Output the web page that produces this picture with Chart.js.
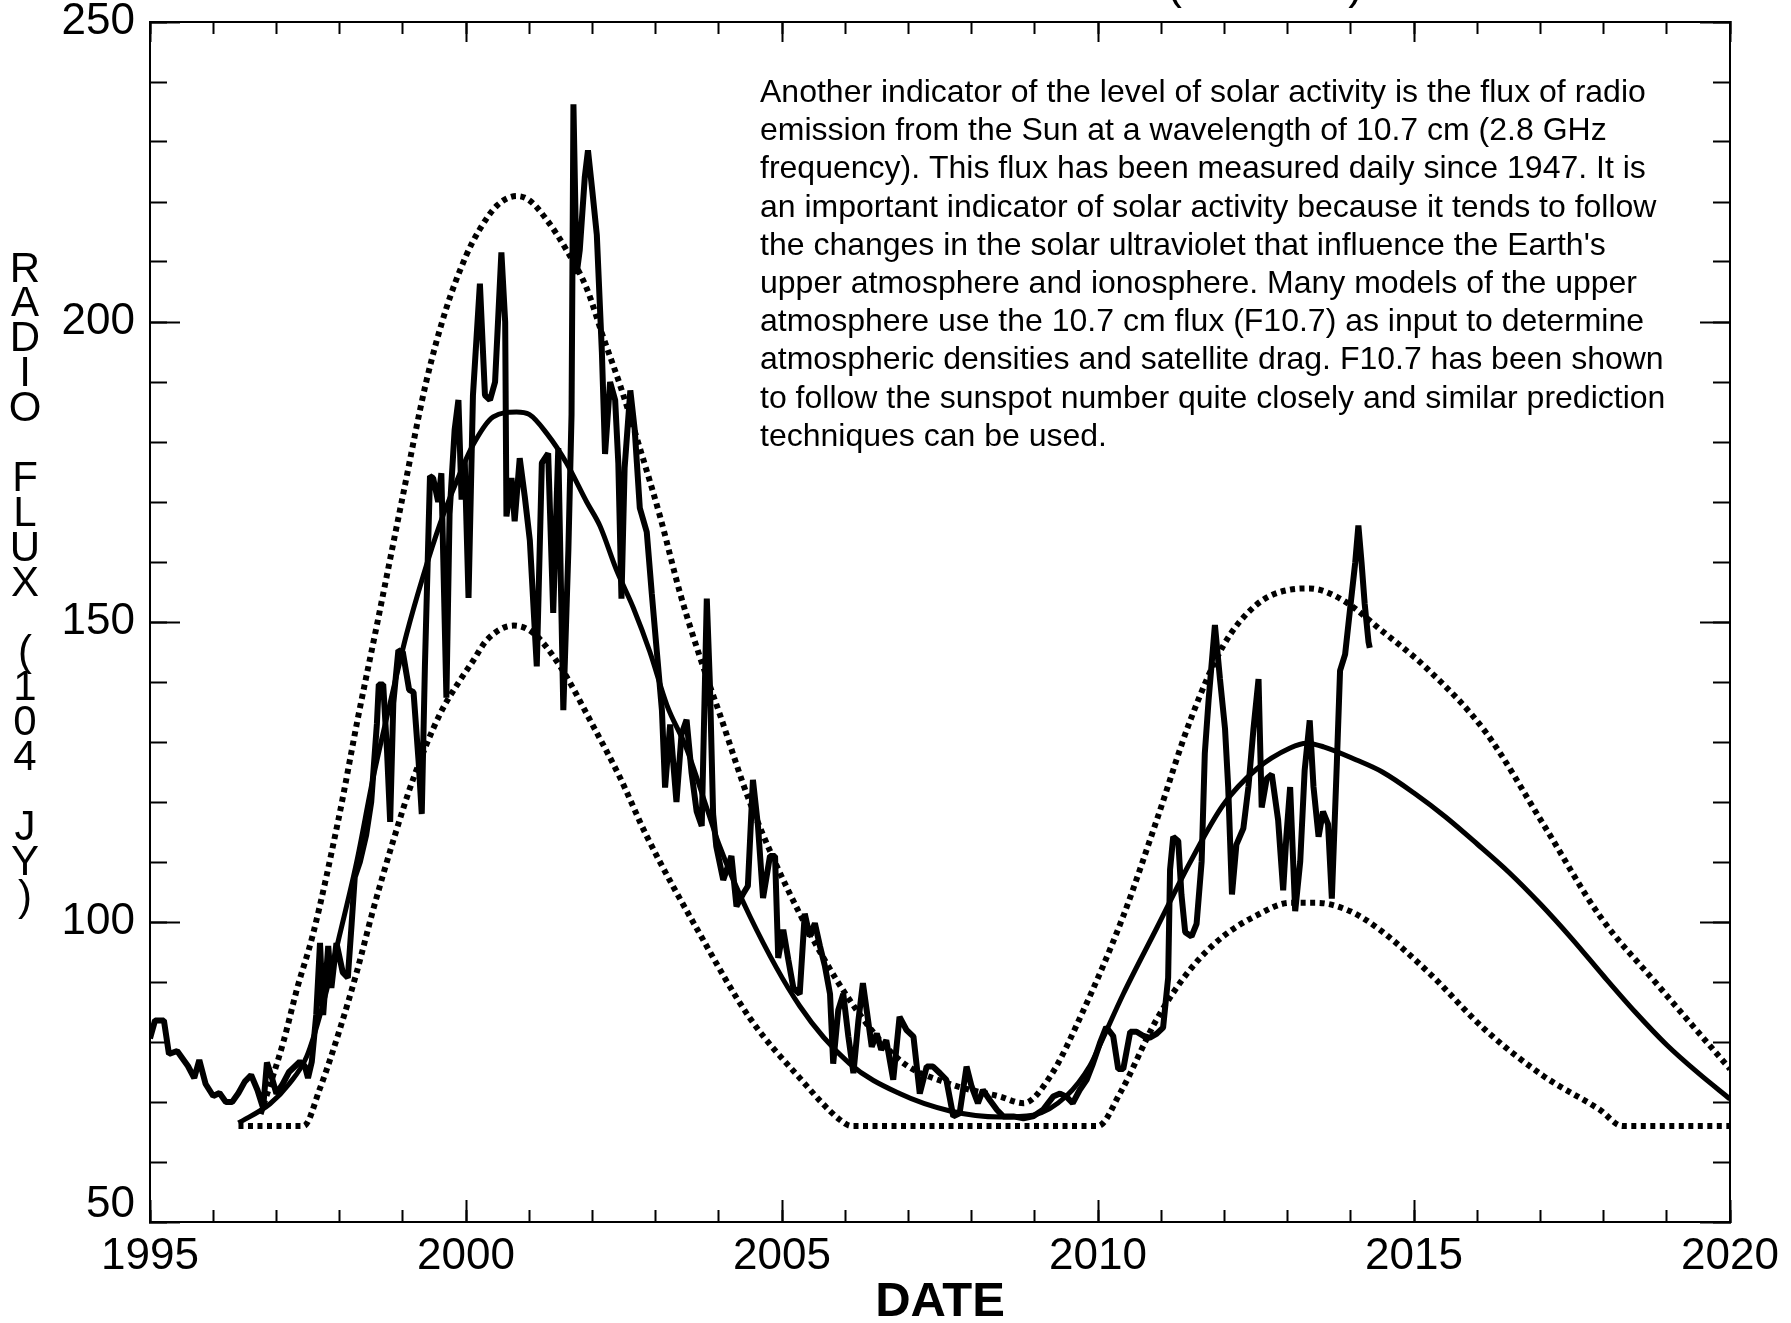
<!DOCTYPE html>
<html>
<head>
<meta charset="utf-8">
<title>Radio flux prediction</title>
<script src="https://cdn.jsdelivr.net/npm/chart.js@4.4.1/dist/chart.umd.min.js"></script>
<style>
  html, body { margin: 0; padding: 0; background: #fff; }
  canvas { display: block; }
</style>
</head>
<body>
<canvas id="fluxChart" width="1791" height="1323" style="width:1791px;height:1323px"></canvas>
<script>
// observed monthly 10.7 cm flux
const obsYear = [
  1995.00, 1995.08, 1995.22, 1995.30, 1995.43, 1995.60, 1995.70, 1995.78, 1995.88, 1996.00,
  1996.10, 1996.20, 1996.30, 1996.40, 1996.50, 1996.60, 1996.70, 1996.79, 1996.85, 1996.93,
  1997.00, 1997.10, 1997.20, 1997.37, 1997.45, 1997.50, 1997.56, 1997.63, 1997.69, 1997.74,
  1997.82, 1997.87, 1997.95, 1998.05, 1998.13, 1998.19, 1998.24, 1998.32, 1998.42, 1998.50,
  1998.59, 1998.62, 1998.69, 1998.75, 1998.80, 1998.85, 1998.93, 1999.00, 1999.10, 1999.17,
  1999.25, 1999.30, 1999.35, 1999.43, 1999.48, 1999.56, 1999.61, 1999.69, 1999.74, 1999.82,
  1999.88, 1999.93, 1999.98, 2000.04, 2000.11, 2000.22, 2000.30, 2000.38, 2000.46, 2000.56,
  2000.62, 2000.64, 2000.72, 2000.77, 2000.85, 2000.93, 2001.01, 2001.12, 2001.20, 2001.30,
  2001.38, 2001.46, 2001.54, 2001.62, 2001.67, 2001.70, 2001.75, 2001.80, 2001.88, 2001.93,
  2002.00, 2002.07, 2002.15, 2002.20, 2002.28, 2002.36, 2002.41, 2002.46, 2002.51, 2002.60,
  2002.67, 2002.75, 2002.86, 2002.94, 2003.02, 2003.10, 2003.15, 2003.23, 2003.33, 2003.41,
  2003.49, 2003.57, 2003.65, 2003.73, 2003.81, 2003.86, 2003.91, 2003.96, 2004.07, 2004.20,
  2004.28, 2004.39, 2004.46, 2004.54, 2004.62, 2004.70, 2004.81, 2004.89, 2004.94, 2005.02,
  2005.10, 2005.18, 2005.28, 2005.36, 2005.44, 2005.52, 2005.60, 2005.68, 2005.76, 2005.81,
  2005.89, 2005.97, 2006.05, 2006.13, 2006.21, 2006.28, 2006.34, 2006.42, 2006.50, 2006.57,
  2006.65, 2006.76, 2006.86, 2006.97, 2007.08, 2007.18, 2007.29, 2007.39, 2007.50, 2007.60,
  2007.71, 2007.81, 2007.92, 2008.00, 2008.10, 2008.18, 2008.29, 2008.40, 2008.50, 2008.66,
  2008.82, 2008.97, 2009.13, 2009.29, 2009.40, 2009.50, 2009.60, 2009.71, 2009.82, 2009.92,
  2010.03, 2010.13, 2010.24, 2010.32, 2010.40, 2010.51, 2010.61, 2010.72, 2010.82, 2010.93,
  2011.03, 2011.11, 2011.14, 2011.19, 2011.27, 2011.32, 2011.38, 2011.48, 2011.56, 2011.64,
  2011.69, 2011.75, 2011.85, 2011.93, 2012.01, 2012.06, 2012.12, 2012.19, 2012.30, 2012.38,
  2012.46, 2012.54, 2012.59, 2012.67, 2012.75, 2012.85, 2012.93, 2012.98, 2013.04, 2013.12,
  2013.20, 2013.27, 2013.35, 2013.41, 2013.49, 2013.56, 2013.64, 2013.70, 2013.78, 2013.83,
  2013.91, 2013.99, 2014.07, 2014.12, 2014.17, 2014.22, 2014.28, 2014.30
];
const obsFlux = [
  80.6, 83.6, 83.6, 78.0, 78.5, 76.0, 74.0, 77.0, 73.0, 71.0,
  71.5, 70.0, 70.0, 71.5, 73.4, 74.5, 72.0, 69.0, 76.6, 74.0,
  71.4, 73.0, 75.0, 76.7, 76.0, 74.0, 76.7, 84.5, 96.5, 84.5,
  96.0, 89.0, 96.5, 91.6, 90.7, 99.6, 107.5, 110.0, 114.5, 120.0,
  133.0, 139.6, 139.6, 128.6, 116.7, 136.5, 145.3, 145.0, 138.7, 138.3,
  126.8, 118.0, 142.7, 174.3, 174.0, 170.0, 174.8, 137.4, 168.0, 182.0,
  187.0, 170.4, 177.0, 154.0, 187.8, 206.4, 187.8, 187.0, 190.0, 211.6,
  200.0, 167.6, 174.0, 166.8, 177.3, 170.9, 163.6, 142.6, 176.5, 178.1,
  151.5, 179.0, 135.3, 162.0, 184.6, 236.3, 208.0, 212.0, 224.2, 228.6,
  221.7, 214.5, 195.0, 178.0, 190.0, 187.0, 176.5, 153.9, 175.7, 188.6,
  182.0, 169.0, 165.0, 154.7, 145.0, 135.3, 122.4, 132.9, 120.0, 131.3,
  133.7, 124.8, 118.4, 116.0, 153.9, 139.4, 118.0, 112.6, 107.0, 111.0,
  102.6, 104.8, 106.0, 123.7, 116.0, 104.0, 111.0, 111.0, 94.0, 98.7,
  93.7, 89.0, 88.0, 101.4, 97.6, 99.8, 96.0, 92.6, 88.0, 76.4,
  85.3, 88.0, 80.9, 74.8, 83.7, 89.8, 85.3, 79.2, 81.4, 78.7,
  80.3, 73.7, 84.2, 82.0, 80.9, 71.4, 75.9, 75.9, 74.8, 73.7,
  67.6, 68.1, 75.9, 72.6, 69.8, 72.0, 70.3, 68.7, 67.6, 67.6,
  67.3, 67.6, 68.7, 70.9, 71.4, 70.9, 69.8, 72.0, 73.7, 76.4,
  79.8, 82.5, 81.0, 75.5, 75.5, 81.7, 81.7, 81.0, 80.7, 81.4,
  82.4, 90.7, 108.7, 114.2, 113.5, 104.6, 98.3, 97.6, 99.7, 110.1,
  128.1, 137.0, 149.5, 140.5, 132.2, 122.5, 104.6, 112.9, 115.6, 122.5,
  132.2, 140.5, 119.1, 123.9, 124.6, 117.0, 105.3, 114.2, 122.5, 101.8,
  110.1, 125.3, 133.6, 122.5, 114.2, 118.4, 116.3, 103.9, 126.7, 141.9,
  144.6, 152.3, 159.9, 166.1, 159.9, 153.0, 146.7, 145.7
];

// predicted (smoothed) flux
const fitYear = [1996.40, 1996.90, 1997.20, 1997.48, 1997.74, 1998.00, 1998.27, 1998.53, 1998.80, 1999.06,
  1999.32, 1999.59, 1999.85, 2000.11, 2000.43, 2000.80, 2001.00, 2001.28, 2001.59, 2001.91,
  2002.12, 2002.38, 2002.65, 2002.91, 2003.18, 2003.49, 2003.81, 2004.00, 2004.49, 2005.28,
  2006.07, 2006.86, 2007.66, 2008.45, 2008.97, 2009.50, 2009.87, 2010.03, 2010.40, 2010.93,
  2011.46, 2011.98, 2012.51, 2013.04, 2013.30, 2013.57, 2014.09, 2014.50, 2015.00, 2015.50,
  2016.00, 2016.50, 2017.00, 2017.50, 2018.00, 2018.50, 2019.00, 2019.50, 2020.00];
const fitFlux = [66.5, 69.7, 73.0, 77.6, 86.4, 97.8, 110.0, 124.0, 136.5, 148.0,
  157.6, 166.4, 173.4, 179.5, 184.2, 185.0, 184.6, 181.4, 176.5, 170.0,
  166.0, 158.7, 152.3, 145.0, 136.1, 128.9, 119.0, 113.0, 101.0, 86.0,
  76.4, 71.4, 68.5, 67.5, 67.8, 71.0, 76.0, 79.5, 88.0, 99.0,
  110.0, 119.5, 125.5, 129.0, 129.8, 129.2, 127.0, 125.0, 121.5, 117.5,
  113.0, 108.3, 103.0, 97.2, 91.0, 85.0, 79.5, 74.8, 70.5];

// upper bound (dotted)
const hiYear = [1996.75, 1997.11, 1997.33, 1997.58, 1997.98, 1998.29, 1998.60, 1999.00, 1999.37, 1999.68,
  2000.00, 2000.22, 2000.50, 2000.80, 2001.00, 2001.28, 2001.59, 2001.91, 2002.17, 2002.44,
  2002.75, 2003.07, 2003.39, 2003.70, 2004.02, 2004.49, 2005.28, 2006.07, 2006.86, 2007.66,
  2008.45, 2008.82, 2009.24, 2009.77, 2010.40, 2010.93, 2011.46, 2011.98, 2012.51, 2013.04,
  2013.35, 2013.88, 2014.46, 2015.23, 2016.13, 2017.04, 2017.94, 2018.84, 2020.00];
const hiFlux = [68.0, 80.0, 89.0, 98.0, 117.0, 134.0, 150.0, 171.0, 190.0, 202.0,
  211.0, 215.5, 219.5, 221.0, 220.3, 217.0, 212.0, 205.6, 197.5, 189.4,
  179.0, 167.6, 154.7, 144.2, 134.5, 120.0, 101.4, 87.0, 77.0, 73.0,
  70.9, 69.8, 74.2, 85.3, 101.0, 117.0, 133.6, 146.0, 152.9, 155.4,
  155.6, 153.6, 148.8, 142.0, 131.7, 116.4, 101.0, 89.7, 75.5];

// lower bound (dotted)
const loYear = [1996.40, 1997.43, 1997.69, 1998.00, 1998.27, 1998.53, 1998.85, 1999.17, 1999.59, 1999.90,
  2000.11, 2000.33, 2000.75, 2001.06, 2001.49, 2002.00, 2002.44, 2002.86, 2003.70, 2004.49,
  2005.28, 2005.92, 2006.10, 2010.00, 2010.35, 2010.93, 2011.46, 2011.98, 2012.51, 2013.04,
  2013.46, 2013.99, 2014.46, 2015.23, 2016.13, 2017.04, 2017.94, 2018.30, 2020.00];
const loFlux = [66.0, 66.0, 72.3, 82.0, 91.6, 102.0, 113.6, 124.0, 134.7, 140.2,
  143.5, 147.0, 149.4, 148.2, 142.6, 132.9, 124.0, 114.3, 98.0, 84.0,
  74.0, 67.0, 66.0, 66.0, 71.5, 83.8, 92.1, 97.6, 101.1, 103.2,
  103.2, 101.8, 98.7, 91.6, 82.0, 74.4, 68.7, 66.0, 66.0];

const yTitleChars = ['R', 'A', 'D', 'I', 'O', '', 'F', 'L', 'U', 'X', '', '(', '1', '0', '4', '', 'J', 'Y', ')'];

const noteLines = [
  'Another indicator of the level of solar activity is the flux of radio',
  'emission from the Sun at a wavelength of 10.7 cm (2.8 GHz',
  'frequency). This flux has been measured daily since 1947. It is',
  'an important indicator of solar activity because it tends to follow',
  'the changes in the solar ultraviolet that influence the Earth\'s',
  'upper atmosphere and ionosphere. Many models of the upper',
  'atmosphere use the 10.7 cm flux (F10.7) as input to determine',
  'atmospheric densities and satellite drag. F10.7 has been shown',
  'to follow the sunspot number quite closely and similar prediction',
  'techniques can be used.'
];

const FONT = '"Liberation Sans", Arial, Helvetica, sans-serif';

const pts = (xs, ys) => xs.map((x, i) => ({ x: x, y: ys[i] }));

// inward tick marks: one unlabeled axis per side and tick size
function tickAxis(pos, min, max, step, len, weight) {
  const horiz = pos === 'top' || pos === 'bottom';
  return {
    type: 'linear', position: pos, min: min, max: max, weight: weight,
    ticks: { display: false, stepSize: step, maxTicksLimit: 200, autoSkip: false },
    grid: { drawOnChartArea: false, drawTicks: true, tickLength: -len, tickWidth: 2, tickColor: '#000', color: '#000' },
    border: { display: true, color: '#000', width: 2 },
    afterFit: (s) => {
      if (horiz) { s.height = 0; } else { s.width = 0; }
      s.paddingTop = 0; s.paddingBottom = 0; s.paddingLeft = 0; s.paddingRight = 0;
    }
  };
}

const textPlugin = {
  id: 'extraText',
  afterDraw(chart) {
    const ctx = chart.ctx;
    ctx.save();
    ctx.fillStyle = '#000';

    // cut-off title at the top edge
    ctx.font = '44px ' + FONT;
    ctx.textAlign = 'center';
    ctx.textBaseline = 'alphabetic';
    ctx.fillText('(10.7 CM)', 1265, -1);

    // stacked y axis title
    ctx.font = '42px ' + FONT;
    ctx.textBaseline = 'middle';
    yTitleChars.forEach((ch, i) => {
      if (ch) ctx.fillText(ch, 25, 270 + i * 34.9);
    });

    // note
    ctx.font = '32px ' + FONT;
    ctx.textAlign = 'left';
    ctx.textBaseline = 'alphabetic';
    noteLines.forEach((line, i) => {
      ctx.fillText(line, 760, 102 + i * 38.2);
    });
    ctx.restore();
  }
};

const lineBase = { pointRadius: 0, borderColor: '#000', backgroundColor: '#000', fill: false };

new Chart(document.getElementById('fluxChart').getContext('2d'), {
  type: 'line',
  data: {
    datasets: [
      Object.assign({}, lineBase, { label: 'Observed', data: pts(obsYear, obsFlux), borderWidth: 6, tension: 0, borderJoinStyle: 'bevel' }),
      Object.assign({}, lineBase, { label: 'Predicted', data: pts(fitYear, fitFlux), borderWidth: 5, cubicInterpolationMode: 'monotone' }),
      Object.assign({}, lineBase, { label: 'Upper', data: pts(hiYear, hiFlux), borderWidth: 6, borderDash: [5, 4.5], cubicInterpolationMode: 'monotone' }),
      Object.assign({}, lineBase, { label: 'Lower', data: pts(loYear, loFlux), borderWidth: 6, borderDash: [5, 4.5], cubicInterpolationMode: 'monotone' })
    ]
  },
  options: {
    responsive: false,
    maintainAspectRatio: false,
    devicePixelRatio: 1,
    animation: false,
    events: [],
    layout: { padding: { left: 0, top: 22, right: 61, bottom: 0 } },
    plugins: { legend: { display: false }, tooltip: { enabled: false }, title: { display: false } },
    scales: {
      x: {
        type: 'linear', position: 'bottom', min: 1995, max: 2020, weight: 5,
        ticks: { stepSize: 5, autoSkip: false, maxRotation: 0, padding: 8, color: '#000',
          font: { family: FONT, size: 44 }, callback: (v) => String(v) },
        grid: { display: false, drawTicks: false },
        border: { display: false },
        title: { display: true, text: 'DATE', color: '#000', padding: 0,
          font: { family: FONT, size: 49, weight: 'bold', lineHeight: 0.85 } },
        afterFit: (s) => { s.height = 101; s.paddingLeft = 0; s.paddingRight = 0; }
      },
      y: {
        type: 'linear', position: 'left', min: 50, max: 250, weight: 5,
        ticks: { stepSize: 50, padding: 15, color: '#000',
          font: (c) => (c.tick && c.tick.value === 50)
            ? { family: FONT, size: 44, lineHeight: 0.8 }
            : { family: FONT, size: 44 },
          callback: (v) => (v === 50 ? ['50', ''] : String(v)) },
        grid: { display: false, drawTicks: false },
        border: { display: false },
        afterFit: (s) => { s.width = 150; s.paddingTop = 0; s.paddingBottom = 0; }
      },
      xMinor: tickAxis('bottom', 1995, 2020, 1, 12, 0),
      xMajor: tickAxis('bottom', 1995, 2020, 5, 22, 1),
      xTopMinor: tickAxis('top', 1995, 2020, 1, 12, 0),
      xTopMajor: tickAxis('top', 1995, 2020, 5, 20, 1),
      yMinor: tickAxis('left', 50, 250, 10, 17, 0),
      yMajor: tickAxis('left', 50, 250, 50, 30, 1),
      yRightMinor: tickAxis('right', 50, 250, 10, 17, 0),
      yRightMajor: tickAxis('right', 50, 250, 50, 30, 1)
    }
  },
  plugins: [textPlugin]
});
</script>
</body>
</html>
